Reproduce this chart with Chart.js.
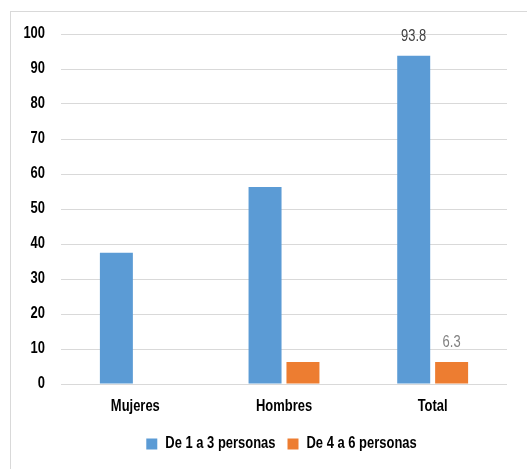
<!DOCTYPE html>
<html>
<head>
<meta charset="utf-8">
<script src="https://cdn.jsdelivr.net/npm/chart.js@4"></script>
<style>
  html, body { margin: 0; padding: 0; background: #fff; }
  #frame { position: absolute; left: 10px; top: 11px; width: 600px; height: 600px; border: 1px solid #d9d9d9; box-sizing: border-box; }
  #wrap { position: absolute; left: 0; top: 0; width: 527px; height: 469px; }
</style>
</head>
<body>
<div id="frame"></div>
<div id="wrap"><canvas id="c" width="527" height="469"></canvas></div>
<script>
const categories = ["Mujeres", "Hombres", "Total"];
const seriesNames = ["De 1 a 3 personas", "De 4 a 6 personas"];
const small = [37.5, 56.3, 93.8];
const large = [0, 6.3, 6.3];
const labelledCategory = "Total";
const yTicks = [0, 10, 20, 30, 40, 50, 60, 70, 80, 90, 100];

const FONT = "'Liberation Sans', Arial, sans-serif";
const SX = 0.81; // horizontal condensing of all text, to mimic the condensed face of the original

const canvas = document.getElementById('c');
const ctx = canvas.getContext('2d');
const origFill = ctx.fillText.bind(ctx);
const origMeasure = ctx.measureText.bind(ctx);
ctx.fillText = function (t, x, y, maxW) {
  ctx.save();
  ctx.translate(x, y);
  ctx.scale(SX, 1);
  if (maxW !== undefined && maxW !== null) origFill(t, 0, 0, maxW / SX);
  else origFill(t, 0, 0);
  ctx.restore();
};
ctx.measureText = function (t) {
  const m = origMeasure(t);
  return {
    width: m.width * SX,
    actualBoundingBoxAscent: m.actualBoundingBoxAscent,
    actualBoundingBoxDescent: m.actualBoundingBoxDescent,
    actualBoundingBoxLeft: m.actualBoundingBoxLeft * SX,
    actualBoundingBoxRight: m.actualBoundingBoxRight * SX,
    fontBoundingBoxAscent: m.fontBoundingBoxAscent,
    fontBoundingBoxDescent: m.fontBoundingBoxDescent
  };
};

const valueLabels = {
  id: 'valueLabels',
  afterLayout(chart) {
    if (chart.legend) { chart.legend.left += 18; chart.legend.right += 18; }
  },
  afterDatasetsDraw(chart) {
    const c = chart.ctx;
    const idx = categories.indexOf(labelledCategory);
    const colors = ['#404040', '#808080'];
    chart.data.datasets.forEach((ds, i) => {
      const meta = chart.getDatasetMeta(i);
      const bar = meta.data[idx];
      if (!bar) return;
      c.save();
      c.font = "16px " + FONT;
      c.fillStyle = colors[i];
      c.textAlign = 'center';
      c.textBaseline = 'middle';
      c.fillText(ds.data[idx].toFixed(1), bar.x, bar.y - 19);
      c.restore();
    });
  }
};

new Chart(ctx, {
  type: 'bar',
  data: {
    labels: categories,
    datasets: [
      { label: seriesNames[0], data: small, backgroundColor: '#5B9BD5', categoryPercentage: 0.51, barPercentage: 0.87 },
      { label: seriesNames[1], data: large, backgroundColor: '#ED7D31', categoryPercentage: 0.51, barPercentage: 0.87 }
    ]
  },
  options: {
    responsive: false,
    animation: false,
    devicePixelRatio: 1,
    layout: { padding: { left: 20, right: 20, top: 34, bottom: 7 } },
    plugins: {
      tooltip: { enabled: false },
      legend: {
        position: 'bottom',
        labels: {
          boxWidth: 11, boxHeight: 11, padding: 12, color: '#000',
          font: { family: FONT, size: 16, weight: 'bold' }
        }
      }
    },
    scales: {
      x: {
        grid: { display: false, drawTicks: false },
        border: { display: false },
        ticks: { color: '#000', padding: 13, font: { family: FONT, size: 16, weight: 'bold' } },
        afterFit(s) { s.height = 40; }
      },
      y: {
        min: 0, max: 100,
        afterBuildTicks(s) { s.ticks = yTicks.map(v => ({ value: v })); },
        grid: { color: '#d9d9d9', drawTicks: false, lineWidth: 1 },
        border: { display: false },
        ticks: { color: '#000', padding: 16, font: { family: FONT, size: 16, weight: 'bold' } },
        afterFit(s) { s.width = 41; }
      }
    }
  },
  plugins: [valueLabels]
});
</script>
</body>
</html>
